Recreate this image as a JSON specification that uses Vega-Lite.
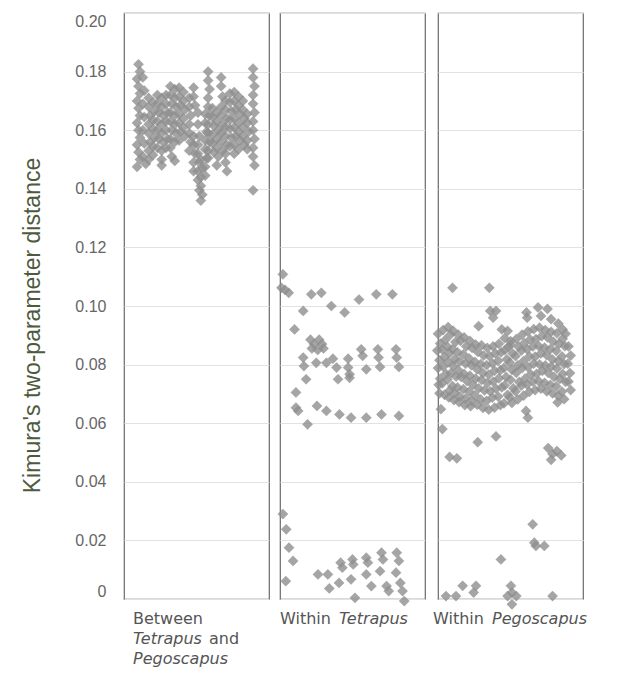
{
 "$schema": "https://vega.github.io/schema/vega-lite/v6.json",
 "padding": {"left": 20, "top": 12, "right": 5, "bottom": 5},
 "background": "white",
 "config": {
  "view": {"stroke": "#6a6a6a", "strokeWidth": 1.2},
  "axis": {"gridColor": "#e2e2e2", "gridWidth": 1, "minExtent": 0},
  "concat": {"spacing": 4}
 },
 "datasets": {
  "between": [
   {"x":10,"y":0.1825},{"x":11,"y":0.18},{"x":9,"y":0.1775},{"x":10,"y":0.175},{"x":11,"y":0.1725},{"x":9,"y":0.17},{"x":10,"y":0.1675},{"x":11,"y":0.165},{"x":9,"y":0.1625},{"x":10,"y":0.16},{"x":11,"y":0.1575},{"x":9,"y":0.155},{"x":10,"y":0.1525},{"x":11,"y":0.15},{"x":9,"y":0.1475},
   {"x":13,"y":0.178},{"x":14,"y":0.1735},{"x":13,"y":0.169},{"x":14,"y":0.1645},{"x":13,"y":0.16},{"x":14,"y":0.1555},{"x":13,"y":0.151},{"x":15,"y":0.1485},
   {"x":17,"y":0.171},{"x":17,"y":0.168},{"x":18,"y":0.165},{"x":17,"y":0.162},{"x":17,"y":0.159},{"x":18,"y":0.156},{"x":17,"y":0.153},{"x":17,"y":0.15},
   {"x":20,"y":0.1695},{"x":21,"y":0.1665},{"x":20,"y":0.1635},{"x":20,"y":0.1605},{"x":21,"y":0.1575},{"x":20,"y":0.1545},{"x":20,"y":0.1515},
   {"x":23,"y":0.172},{"x":23,"y":0.169},{"x":24,"y":0.166},{"x":23,"y":0.163},{"x":23,"y":0.16},{"x":24,"y":0.157},{"x":23,"y":0.154},
   {"x":26,"y":0.171},{"x":26,"y":0.168},{"x":27,"y":0.165},{"x":26,"y":0.162},{"x":26,"y":0.159},{"x":27,"y":0.156},{"x":26,"y":0.153},{"x":26,"y":0.15},{"x":26,"y":0.148},
   {"x":29,"y":0.172},{"x":29,"y":0.169},{"x":30,"y":0.166},{"x":29,"y":0.163},{"x":29,"y":0.16},{"x":30,"y":0.157},{"x":29,"y":0.154},
   {"x":32,"y":0.175},{"x":32,"y":0.172},{"x":33,"y":0.169},{"x":32,"y":0.166},{"x":32,"y":0.163},{"x":33,"y":0.16},{"x":32,"y":0.157},{"x":32,"y":0.154},{"x":33,"y":0.151},
   {"x":35,"y":0.174},{"x":35,"y":0.171},{"x":36,"y":0.168},{"x":35,"y":0.165},{"x":35,"y":0.162},{"x":36,"y":0.159},{"x":35,"y":0.156},{"x":35,"y":0.1495},
   {"x":38,"y":0.1745},{"x":38,"y":0.1715},{"x":39,"y":0.1685},{"x":38,"y":0.1655},{"x":38,"y":0.1625},{"x":39,"y":0.1595},{"x":38,"y":0.1565},
   {"x":41,"y":0.173},{"x":41,"y":0.17},{"x":42,"y":0.167},{"x":41,"y":0.164},{"x":41,"y":0.161},{"x":42,"y":0.158},
   {"x":45,"y":0.171},{"x":45,"y":0.168},{"x":46,"y":0.165},{"x":45,"y":0.162},{"x":45,"y":0.159},{"x":46,"y":0.156},{"x":45,"y":0.153},
   {"x":48,"y":0.1745},{"x":48,"y":0.1715},{"x":49,"y":0.1685},{"x":48,"y":0.158},{"x":48,"y":0.155},{"x":49,"y":0.152},{"x":48,"y":0.149},{"x":48,"y":0.146},
   {"x":51,"y":0.166},{"x":51,"y":0.162},{"x":52,"y":0.158},{"x":51,"y":0.155},{"x":51,"y":0.152},{"x":52,"y":0.149},{"x":51,"y":0.146},{"x":51,"y":0.143},{"x":52,"y":0.1395},
   {"x":53,"y":0.15},{"x":54,"y":0.147},{"x":53,"y":0.144},{"x":53,"y":0.141},{"x":54,"y":0.138},{"x":53,"y":0.136},
   {"x":56,"y":0.1655},{"x":56,"y":0.1625},{"x":57,"y":0.1595},{"x":56,"y":0.1565},{"x":56,"y":0.1535},{"x":57,"y":0.1505},{"x":56,"y":0.1475},{"x":56,"y":0.1445},
   {"x":58,"y":0.18},{"x":58,"y":0.177},{"x":59,"y":0.174},{"x":58,"y":0.171},{"x":58,"y":0.168},{"x":59,"y":0.165},{"x":58,"y":0.162},{"x":58,"y":0.159},{"x":59,"y":0.156},{"x":58,"y":0.153},{"x":58,"y":0.1505},
   {"x":61,"y":0.1675},{"x":61,"y":0.1645},{"x":62,"y":0.1615},{"x":61,"y":0.1585},{"x":61,"y":0.1555},{"x":62,"y":0.1525},
   {"x":64,"y":0.166},{"x":64,"y":0.163},{"x":65,"y":0.16},{"x":64,"y":0.157},{"x":64,"y":0.154},{"x":65,"y":0.151},{"x":64,"y":0.148},
   {"x":67,"y":0.178},{"x":67,"y":0.175},{"x":68,"y":0.1715},{"x":67,"y":0.168},{"x":67,"y":0.165},{"x":68,"y":0.162},{"x":67,"y":0.159},{"x":67,"y":0.156},{"x":68,"y":0.153},
   {"x":70,"y":0.17},{"x":70,"y":0.167},{"x":71,"y":0.164},{"x":70,"y":0.161},{"x":70,"y":0.158},{"x":71,"y":0.155},{"x":70,"y":0.152},{"x":70,"y":0.149},{"x":71,"y":0.146},
   {"x":73,"y":0.1725},{"x":73,"y":0.1695},{"x":74,"y":0.1665},{"x":73,"y":0.1635},{"x":73,"y":0.1605},{"x":74,"y":0.1575},{"x":73,"y":0.1545},
   {"x":76,"y":0.173},{"x":76,"y":0.17},{"x":77,"y":0.167},{"x":76,"y":0.164},{"x":76,"y":0.161},{"x":77,"y":0.158},{"x":76,"y":0.155},{"x":76,"y":0.152},
   {"x":79,"y":0.1715},{"x":79,"y":0.1685},{"x":80,"y":0.1655},{"x":79,"y":0.1625},{"x":79,"y":0.1595},{"x":80,"y":0.1565},{"x":79,"y":0.1535},
   {"x":82,"y":0.17},{"x":82,"y":0.167},{"x":83,"y":0.164},{"x":82,"y":0.161},{"x":82,"y":0.158},{"x":83,"y":0.155},
   {"x":85,"y":0.1655},{"x":85,"y":0.1625},{"x":86,"y":0.1595},{"x":85,"y":0.1565},{"x":85,"y":0.1535},
   {"x":89,"y":0.181},{"x":89,"y":0.178},{"x":90,"y":0.175},{"x":89,"y":0.172},{"x":89,"y":0.169},{"x":90,"y":0.166},{"x":89,"y":0.163},{"x":89,"y":0.16},{"x":90,"y":0.157},{"x":89,"y":0.154},{"x":89,"y":0.151},{"x":90,"y":0.148},{"x":89,"y":0.1395}
  ],
  "tetrapus": [
   {"x":2,"y":0.1108},{"x":1,"y":0.1062},{"x":3.5,"y":0.1055},{"x":6,"y":0.1045},{"x":21.6,"y":0.104},{"x":28.5,"y":0.1045},{"x":16,"y":0.0983},{"x":35.4,"y":0.1},{"x":44.6,"y":0.0978},{"x":54.5,"y":0.1022},{"x":66.4,"y":0.104},{"x":77.5,"y":0.104},{"x":10,"y":0.092},
   {"x":21,"y":0.0885},{"x":23.5,"y":0.087},{"x":27,"y":0.0885},{"x":29,"y":0.087},{"x":22,"y":0.0855},{"x":26,"y":0.085},{"x":30,"y":0.0855},
   {"x":16,"y":0.0824},{"x":16.5,"y":0.0795},{"x":25,"y":0.0806},{"x":32,"y":0.0806},{"x":36.5,"y":0.082},{"x":39,"y":0.079},
   {"x":47,"y":0.082},{"x":47,"y":0.079},{"x":48,"y":0.0767},{"x":48,"y":0.0755},
   {"x":56,"y":0.0852},{"x":57,"y":0.083},{"x":59.5,"y":0.0784},
   {"x":67.5,"y":0.0852},{"x":68,"y":0.0824},{"x":69,"y":0.0792},
   {"x":80,"y":0.0852},{"x":80.5,"y":0.0824},{"x":82,"y":0.0792},
   {"x":18,"y":0.075},{"x":40,"y":0.075},{"x":11,"y":0.0705},{"x":11,"y":0.0653},{"x":12.5,"y":0.0642},{"x":19,"y":0.0596},{"x":25.5,"y":0.0659},{"x":32,"y":0.0642},{"x":41,"y":0.063},{"x":49,"y":0.0619},{"x":59.5,"y":0.0619},{"x":70,"y":0.063},{"x":82,"y":0.0625},
   {"x":2,"y":0.029},{"x":4.3,"y":0.0238},{"x":6.2,"y":0.0175},{"x":9,"y":0.013},{"x":4,"y":0.0061},{"x":26.2,"y":0.0084},{"x":33,"y":0.0084},{"x":34,"y":0.0036},{"x":40.7,"y":0.0055},{"x":41.8,"y":0.0124},{"x":43,"y":0.0107},{"x":49,"y":0.0067},{"x":50,"y":0.0135},{"x":50.5,"y":0.0118},{"x":51.7,"y":0.0004},{"x":59.5,"y":0.0141},{"x":60.6,"y":0.0124},{"x":59.5,"y":0.0084},{"x":63,"y":0.0044},{"x":70,"y":0.0158},{"x":71,"y":0.0135},{"x":69,"y":0.0095},{"x":73.5,"y":0.0044},{"x":75,"y":0.0027},{"x":80.5,"y":0.0158},{"x":82,"y":0.013},{"x":80,"y":0.009},{"x":83,"y":0.0055},{"x":84.5,"y":0.0027},{"x":85.7,"y":-0.0007}
  ],
  "pegoscapus": [
   {"x":0,"y":0.0905},{"x":1.5,"y":0.0872},{"x":-0.5,"y":0.0848},{"x":1,"y":0.0815},{"x":0,"y":0.0788},{"x":1.5,"y":0.0752},{"x":0.5,"y":0.0731},{"x":1,"y":0.0702},
   {"x":3.5,"y":0.0918},{"x":5,"y":0.0884},{"x":3,"y":0.0851},{"x":4.5,"y":0.0826},{"x":3.5,"y":0.0793},{"x":5.5,"y":0.0768},{"x":3,"y":0.0736},{"x":4.5,"y":0.0697},
   {"x":7,"y":0.0928},{"x":8.5,"y":0.0902},{"x":6.5,"y":0.0861},{"x":8,"y":0.0839},{"x":7,"y":0.0808},{"x":9,"y":0.0771},{"x":6.5,"y":0.0749},{"x":8,"y":0.0712},{"x":7.5,"y":0.0688},
   {"x":10.5,"y":0.0915},{"x":12,"y":0.0877},{"x":10,"y":0.0853},{"x":11.5,"y":0.0818},{"x":10.5,"y":0.0796},{"x":12.5,"y":0.0759},{"x":10,"y":0.0727},{"x":11.5,"y":0.0703},{"x":11,"y":0.0679},
   {"x":14,"y":0.0902},{"x":15.5,"y":0.0881},{"x":13.5,"y":0.0842},{"x":15,"y":0.0811},{"x":14,"y":0.0781},{"x":16,"y":0.0758},{"x":13.5,"y":0.0722},{"x":15,"y":0.0691},{"x":14.5,"y":0.0672},
   {"x":18,"y":0.0893},{"x":19.5,"y":0.0862},{"x":17.5,"y":0.0835},{"x":19,"y":0.0803},{"x":18,"y":0.0768},{"x":20,"y":0.0744},{"x":17.5,"y":0.0716},{"x":19,"y":0.0684},{"x":18.5,"y":0.0662},
   {"x":22,"y":0.0881},{"x":23.5,"y":0.0857},{"x":21.5,"y":0.0821},{"x":23,"y":0.0798},{"x":22,"y":0.0762},{"x":24,"y":0.0731},{"x":21.5,"y":0.0708},{"x":23,"y":0.0677},{"x":22.5,"y":0.0658},
   {"x":26,"y":0.0868},{"x":27.5,"y":0.0843},{"x":25.5,"y":0.0809},{"x":27,"y":0.0784},{"x":26,"y":0.0752},{"x":28,"y":0.0719},{"x":25.5,"y":0.0695},{"x":27,"y":0.0663},
   {"x":30,"y":0.0866},{"x":31.5,"y":0.0831},{"x":29.5,"y":0.0802},{"x":31,"y":0.0771},{"x":30,"y":0.0748},{"x":32,"y":0.0712},{"x":29.5,"y":0.0681},{"x":31,"y":0.0652},
   {"x":34,"y":0.0857},{"x":35.5,"y":0.0829},{"x":33.5,"y":0.0798},{"x":35,"y":0.0766},{"x":34,"y":0.0737},{"x":36,"y":0.0709},{"x":33.5,"y":0.0676},{"x":35,"y":0.0646},
   {"x":38,"y":0.0862},{"x":39.5,"y":0.0838},{"x":37.5,"y":0.0804},{"x":39,"y":0.0779},{"x":38,"y":0.0742},{"x":40,"y":0.0718},{"x":37.5,"y":0.0687},{"x":39,"y":0.0653},
   {"x":42,"y":0.0871},{"x":43.5,"y":0.0842},{"x":41.5,"y":0.0813},{"x":43,"y":0.0781},{"x":42,"y":0.0753},{"x":44,"y":0.0722},{"x":41.5,"y":0.0691},{"x":43,"y":0.0662},
   {"x":46,"y":0.0849},{"x":47.5,"y":0.0818},{"x":45.5,"y":0.0789},{"x":47,"y":0.0758},{"x":46,"y":0.0729},{"x":48,"y":0.0697},{"x":45.5,"y":0.0668},
   {"x":50,"y":0.0868},{"x":51.5,"y":0.0838},{"x":49.5,"y":0.0807},{"x":51,"y":0.0782},{"x":50,"y":0.0748},{"x":52,"y":0.0719},{"x":49.5,"y":0.0688},{"x":51,"y":0.0669},
   {"x":54,"y":0.0887},{"x":55.5,"y":0.0861},{"x":53.5,"y":0.0829},{"x":55,"y":0.0797},{"x":54,"y":0.0772},{"x":56,"y":0.0741},{"x":53.5,"y":0.0709},{"x":55,"y":0.0681},
   {"x":58,"y":0.0902},{"x":59.5,"y":0.0873},{"x":57.5,"y":0.0848},{"x":59,"y":0.0812},{"x":58,"y":0.0788},{"x":60,"y":0.0752},{"x":57.5,"y":0.0728},{"x":59,"y":0.0694},
   {"x":62,"y":0.0913},{"x":63.5,"y":0.0886},{"x":61.5,"y":0.0852},{"x":63,"y":0.0828},{"x":62,"y":0.0791},{"x":64,"y":0.0767},{"x":61.5,"y":0.0732},{"x":63,"y":0.0707},
   {"x":66,"y":0.0921},{"x":67.5,"y":0.0887},{"x":65.5,"y":0.0862},{"x":67,"y":0.0827},{"x":66,"y":0.0803},{"x":68,"y":0.0768},{"x":65.5,"y":0.0742},{"x":67,"y":0.0713},
   {"x":70,"y":0.0926},{"x":71.5,"y":0.0897},{"x":69.5,"y":0.0863},{"x":71,"y":0.0838},{"x":70,"y":0.0801},{"x":72,"y":0.0779},{"x":69.5,"y":0.0743},{"x":71,"y":0.0718},
   {"x":74,"y":0.0918},{"x":75.5,"y":0.0893},{"x":73.5,"y":0.0858},{"x":75,"y":0.0832},{"x":74,"y":0.0797},{"x":76,"y":0.0772},{"x":73.5,"y":0.0738},{"x":75,"y":0.0709},
   {"x":78,"y":0.0912},{"x":79.5,"y":0.0878},{"x":77.5,"y":0.0853},{"x":79,"y":0.0817},{"x":78,"y":0.0793},{"x":80,"y":0.0758},{"x":77.5,"y":0.0731},{"x":79,"y":0.0702},
   {"x":82,"y":0.0907},{"x":83.5,"y":0.0871},{"x":81.5,"y":0.0847},{"x":83,"y":0.0812},{"x":82,"y":0.0787},{"x":84,"y":0.0751},{"x":81.5,"y":0.0726},{"x":83,"y":0.0693},{"x":82.5,"y":0.0671},
   {"x":86,"y":0.0888},{"x":87.5,"y":0.0863},{"x":85.5,"y":0.0828},{"x":87,"y":0.0802},{"x":86,"y":0.0768},{"x":88,"y":0.0741},{"x":85.5,"y":0.0708},{"x":87,"y":0.0682},
   {"x":90,"y":0.0862},{"x":91.5,"y":0.0831},{"x":89.5,"y":0.0803},{"x":91,"y":0.0771},{"x":90,"y":0.0742},{"x":91.5,"y":0.0713},
   {"x":10,"y":0.1062},{"x":35.4,"y":0.1062},{"x":36,"y":0.0983},{"x":40,"y":0.0983},{"x":38,"y":0.096},{"x":28,"y":0.0931},{"x":44,"y":0.092},{"x":48,"y":0.0915},{"x":46,"y":0.089},{"x":50,"y":0.088},{"x":48.5,"y":0.086},{"x":61,"y":0.0978},{"x":61.5,"y":0.096},{"x":69,"y":0.0995},{"x":71,"y":0.0966},{"x":75.5,"y":0.099},{"x":78,"y":0.0955},{"x":83,"y":0.094},{"x":86,"y":0.092},{"x":88,"y":0.0905},
   {"x":60.7,"y":0.0642},{"x":62,"y":0.0619},{"x":2,"y":0.0648},{"x":3,"y":0.058},{"x":8,"y":0.0485},{"x":13,"y":0.048},{"x":27.4,"y":0.0535},{"x":40,"y":0.0555},{"x":76,"y":0.0515},{"x":79,"y":0.0495},{"x":82,"y":0.0505},{"x":85,"y":0.049},{"x":78,"y":0.0475},
   {"x":65.3,"y":0.0255},{"x":66.4,"y":0.0192},{"x":67.5,"y":0.0181},{"x":73.3,"y":0.0181},{"x":43.4,"y":0.0135},{"x":5.5,"y":0.001},{"x":12.4,"y":0.001},{"x":17,"y":0.0045},{"x":26.2,"y":0.0045},{"x":24.6,"y":0.0022},{"x":50.3,"y":0.0045},{"x":51,"y":0.0022},{"x":48,"y":0.001},{"x":54,"y":0.001},{"x":51,"y":-0.0018},{"x":79,"y":0.001}
  ]
 },
 "hconcat": [
  {
   "width": 145, "height": 586,
   "layer": [
    {
     "data": {"name": "between"},
     "mark": {"type": "point", "shape": "diamond", "filled": true, "size": 105, "fill": "#8f8f8f", "fillOpacity": 0.8, "stroke": "#888888", "strokeWidth": 0.5, "strokeOpacity": 0.6},
     "encoding": {
      "x": {"field": "x", "type": "quantitative", "scale": {"domain": [0, 100]}, "axis": null},
      "y": {"field": "y", "type": "quantitative", "scale": {"domain": [0, 0.2]},
       "axis": {"values": [0, 0.02, 0.04, 0.06, 0.08, 0.1, 0.12, 0.14, 0.16, 0.18, 0.2],
        "labelExpr": "datum.value == 0 ? '0' : format(datum.value, '.2f')",
        "ticks": false, "domain": false, "grid": true, "labelFlush": true,
        "labelPadding": 18, "labelFont": "Liberation Sans", "labelFontSize": 16, "labelColor": "#666666",
        "title": "Kimura's two-parameter distance", "titleFont": "Liberation Sans", "titleFontSize": 23, "titleFontWeight": "normal", "titleColor": "#4e5a3c",
        "titleX": -92, "titleY": 312, "titleAngle": 270, "titleBaseline": "middle", "titleAlign": "center"}}
     }
    },
    {
     "data": {"values": [{"label": "Between"}]},
     "mark": {"type": "text", "align": "left", "baseline": "alphabetic", "dx": 9, "dy": 25, "font": "DejaVu Sans", "fontSize": 16, "fill": "#555555"},
     "encoding": {"x": {"datum": 0, "type": "quantitative"}, "y": {"datum": 0, "type": "quantitative"}, "text": {"field": "label"}}
    },
    {
     "data": {"values": [{"label": "Tetrapus"}]},
     "mark": {"type": "text", "align": "left", "baseline": "alphabetic", "dx": 9, "dy": 45, "font": "DejaVu Sans", "fontSize": 16, "fontStyle": "italic", "fill": "#555555"},
     "encoding": {"x": {"datum": 0, "type": "quantitative"}, "y": {"datum": 0, "type": "quantitative"}, "text": {"field": "label"}}
    },
    {
     "data": {"values": [{"label": "and"}]},
     "mark": {"type": "text", "align": "left", "baseline": "alphabetic", "dx": 85, "dy": 45, "font": "DejaVu Sans", "fontSize": 16, "fill": "#555555"},
     "encoding": {"x": {"datum": 0, "type": "quantitative"}, "y": {"datum": 0, "type": "quantitative"}, "text": {"field": "label"}}
    },
    {
     "data": {"values": [{"label": "Pegoscapus"}]},
     "mark": {"type": "text", "align": "left", "baseline": "alphabetic", "dx": 9, "dy": 65, "font": "DejaVu Sans", "fontSize": 16, "fontStyle": "italic", "fill": "#555555"},
     "encoding": {"x": {"datum": 0, "type": "quantitative"}, "y": {"datum": 0, "type": "quantitative"}, "text": {"field": "label"}}
    }
   ]
  },
  {
   "width": 145, "height": 586,
   "layer": [
    {
     "data": {"name": "tetrapus"},
     "mark": {"type": "point", "shape": "diamond", "filled": true, "size": 105, "fill": "#8f8f8f", "fillOpacity": 0.8, "stroke": "#888888", "strokeWidth": 0.5, "strokeOpacity": 0.6},
     "encoding": {
      "x": {"field": "x", "type": "quantitative", "scale": {"domain": [0, 100]}, "axis": null},
      "y": {"field": "y", "type": "quantitative", "scale": {"domain": [0, 0.2]},
       "axis": {"values": [0, 0.02, 0.04, 0.06, 0.08, 0.1, 0.12, 0.14, 0.16, 0.18, 0.2], "labels": false, "ticks": false, "domain": false, "grid": true, "title": null}}
     }
    },
    {
     "data": {"values": [{"label": "Within"}]},
     "mark": {"type": "text", "align": "left", "baseline": "alphabetic", "dx": 0, "dy": 25, "font": "DejaVu Sans", "fontSize": 16, "fill": "#555555"},
     "encoding": {"x": {"datum": 0, "type": "quantitative"}, "y": {"datum": 0, "type": "quantitative"}, "text": {"field": "label"}}
    },
    {
     "data": {"values": [{"label": "Tetrapus"}]},
     "mark": {"type": "text", "align": "left", "baseline": "alphabetic", "dx": 59, "dy": 25, "font": "DejaVu Sans", "fontSize": 16, "fontStyle": "italic", "fill": "#555555"},
     "encoding": {"x": {"datum": 0, "type": "quantitative"}, "y": {"datum": 0, "type": "quantitative"}, "text": {"field": "label"}}
    }
   ]
  },
  {
   "width": 145, "height": 586,
   "layer": [
    {
     "data": {"name": "pegoscapus"},
     "mark": {"type": "point", "shape": "diamond", "filled": true, "size": 105, "fill": "#8f8f8f", "fillOpacity": 0.8, "stroke": "#888888", "strokeWidth": 0.5, "strokeOpacity": 0.6},
     "encoding": {
      "x": {"field": "x", "type": "quantitative", "scale": {"domain": [0, 100]}, "axis": null},
      "y": {"field": "y", "type": "quantitative", "scale": {"domain": [0, 0.2]},
       "axis": {"values": [0, 0.02, 0.04, 0.06, 0.08, 0.1, 0.12, 0.14, 0.16, 0.18, 0.2], "labels": false, "ticks": false, "domain": false, "grid": true, "title": null}}
     }
    },
    {
     "data": {"values": [{"label": "Within"}]},
     "mark": {"type": "text", "align": "left", "baseline": "alphabetic", "dx": -5, "dy": 25, "font": "DejaVu Sans", "fontSize": 16, "fill": "#555555"},
     "encoding": {"x": {"datum": 0, "type": "quantitative"}, "y": {"datum": 0, "type": "quantitative"}, "text": {"field": "label"}}
    },
    {
     "data": {"values": [{"label": "Pegoscapus"}]},
     "mark": {"type": "text", "align": "left", "baseline": "alphabetic", "dx": 54, "dy": 25, "font": "DejaVu Sans", "fontSize": 16, "fontStyle": "italic", "fill": "#555555"},
     "encoding": {"x": {"datum": 0, "type": "quantitative"}, "y": {"datum": 0, "type": "quantitative"}, "text": {"field": "label"}}
    }
   ]
  }
 ]
}
